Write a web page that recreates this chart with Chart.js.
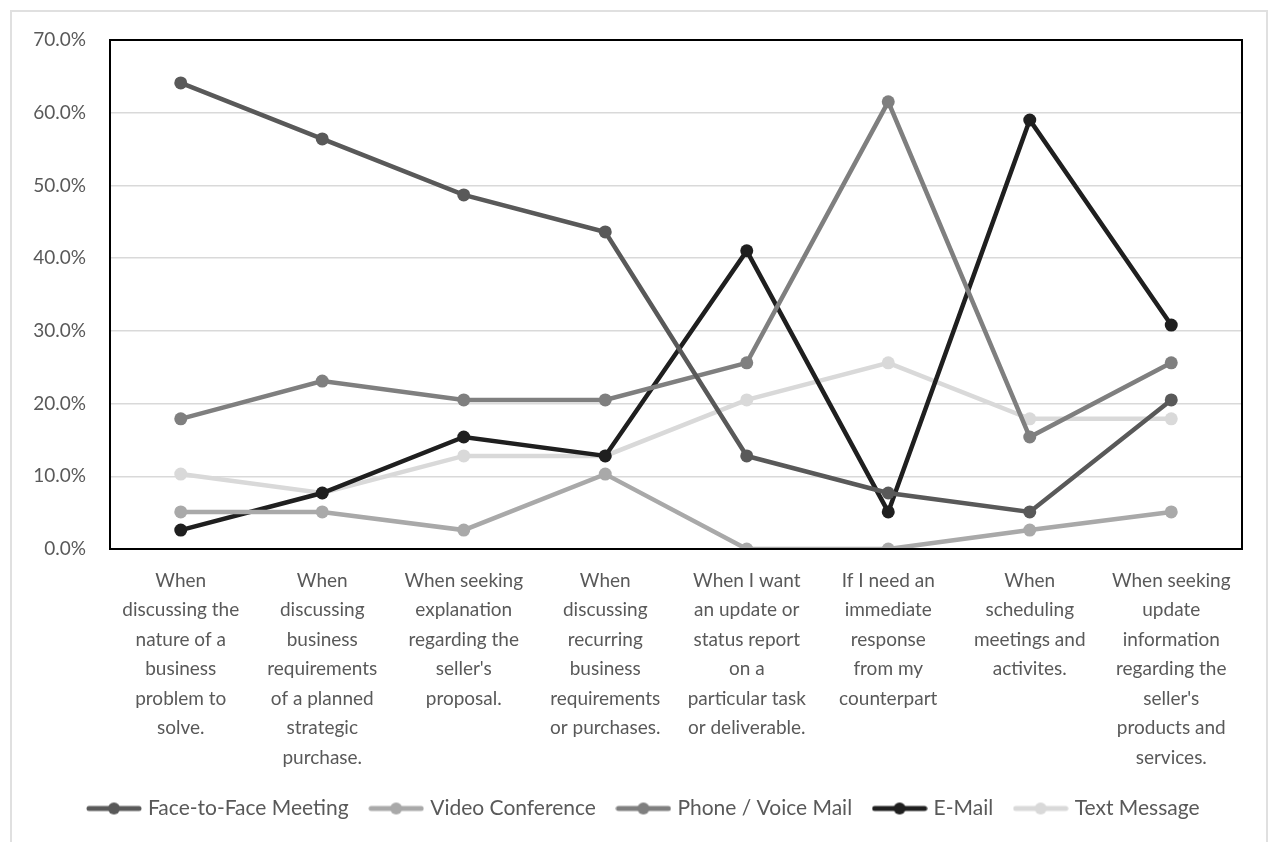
<!DOCTYPE html>
<html><head><meta charset="utf-8">
<script src="https://cdn.jsdelivr.net/npm/chart.js@4.4.1/dist/chart.umd.min.js"></script>
<style>
html,body{margin:0;padding:0;background:#fff;}
#wrap{position:absolute;left:0;top:0;width:1269px;height:842px;}
#frame{position:absolute;left:10px;top:10px;width:1258px;height:840px;border:2px solid #e0e0e0;box-sizing:border-box;}
</style></head>
<body>
<div id="wrap"><div id="frame"></div><canvas id="c" width="1269" height="842"></canvas></div>
<script>
const categories = [
  ["When","discussing the","nature of a","business","problem to","solve."],
  ["When","discussing","business","requirements","of a planned","strategic","purchase."],
  ["When seeking","explanation","regarding the","seller's","proposal."],
  ["When","discussing","recurring","business","requirements","or purchases."],
  ["When I want","an update or","status report","on a","particular task","or deliverable."],
  ["If I need an","immediate","response","from my","counterpart"],
  ["When","scheduling","meetings and","activites."],
  ["When seeking","update","information","regarding the","seller's","products and","services."]
];
const seriesNames = ["Face-to-Face Meeting","Video Conference","Phone / Voice Mail","E-Mail","Text Message"];
const faceToFace = [64.1, 56.4, 48.7, 43.6, 12.8, 7.7, 5.1, 20.5];
const videoConf  = [5.1, 5.1, 2.6, 10.3, 0.0, 0.0, 2.6, 5.1];
const phoneVoice = [17.9, 23.1, 20.5, 20.5, 25.6, 61.5, 15.4, 25.6];
const email      = [2.6, 7.7, 15.4, 12.8, 41.0, 5.1, 59.0, 30.8];
const textMsg    = [10.3, 7.7, 12.8, 12.8, 20.5, 25.6, 17.9, 17.9];
const yTicks = [0,10,20,30,40,50,60,70];
const colors = ["#595959","#a9a9a9","#7f7f7f","#1f1f1f","#d9d9d9"];
const allData = [faceToFace, videoConf, phoneVoice, email, textMsg];

function legendIcon(color){
  const cv = document.createElement('canvas');
  cv.width = 56; cv.height = 14;
  const g = cv.getContext('2d');
  g.strokeStyle = color; g.lineWidth = 5; g.lineCap = 'round';
  g.beginPath(); g.moveTo(3,7); g.lineTo(53,7); g.stroke();
  g.fillStyle = color; g.beginPath(); g.arc(28,7,6,0,Math.PI*2); g.fill();
  return cv;
}

const frameBox = {
  id:'frameBox',
  afterLayout(chart){
    if (chart.legend) { chart.legend.left += 19; chart.legend.right += 19; }
  },
  afterDatasetsDraw(chart){
    const a = chart.chartArea, ctx = chart.ctx;
    ctx.save();
    ctx.strokeStyle = '#000'; ctx.lineWidth = 2;
    ctx.strokeRect(a.left, a.top, a.right-a.left, a.bottom-a.top);
    ctx.restore();
  }
};

const datasets = seriesNames.map((n,i)=>({
  label:n, data:allData[i], borderColor:colors[i], backgroundColor:colors[i],
  borderWidth:4.5, pointRadius:6.5, pointHoverRadius:6.5, pointBackgroundColor:colors[i],
  pointBorderColor:colors[i], pointBorderWidth:0, tension:0, fill:false,
  pointStyle:'circle'
}));
const icons = colors.map(legendIcon);

new Chart(document.getElementById('c'), {
  type:'line',
  data:{labels:categories, datasets:datasets},
  plugins:[frameBox],
  options:{
    responsive:false, animation:false, devicePixelRatio:1,
    layout:{padding:{left:10,top:40,right:27,bottom:13}},
    plugins:{
      tooltip:{enabled:false},
      legend:{
        position:'bottom',
        labels:{
          usePointStyle:true, pointStyleWidth:47, boxHeight:14, padding:24,
          color:'#595959', font:{family:'Lato, "Open Sans", sans-serif', size:21},
          generateLabels(chart){
            return chart.data.datasets.map((d,i)=>({
              text:d.label, fillStyle:d.borderColor, strokeStyle:d.borderColor,
              lineWidth:0, pointStyle:icons[i], hidden:false, datasetIndex:i, fontColor:'#595959'
            }));
          }
        }
      }
    },
    scales:{
      x:{
        offset:true,
        grid:{display:false, drawTicks:false},
        border:{display:false},
        ticks:{color:'#595959', padding:17, maxRotation:0, autoSkip:false,
          font:{family:'Lato, "Open Sans", sans-serif', size:19, lineHeight:'29.5px'}},
        afterFit(s){ s.height = 225; }
      },
      y:{
        min:0, max:70,
        afterBuildTicks(s){ s.ticks = yTicks.map(v=>({value:v})); },
        grid:{color:'#d9d9d9', lineWidth:1.5, drawTicks:false},
        border:{display:false},
        ticks:{color:'#595959', padding:24, callback:v=>v.toFixed(1)+'%',
          font:{family:'Lato, "Open Sans", sans-serif', size:19}},
        afterFit(s){ s.width = 100; }
      }
    }
  }
});
</script>
</body></html>
